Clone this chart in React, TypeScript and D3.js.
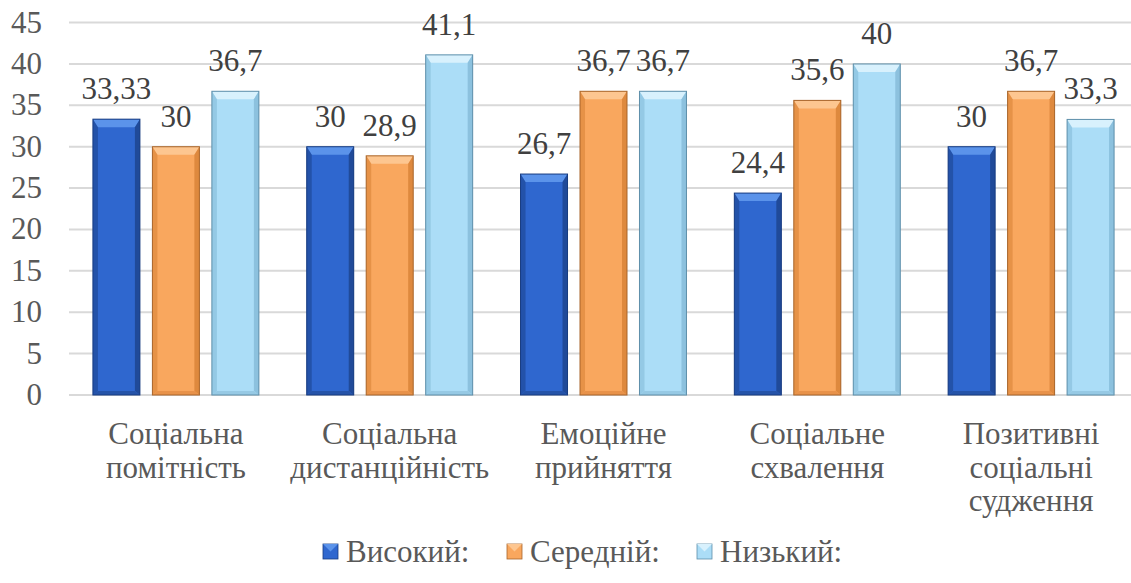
import React from 'react';
import * as d3 from 'd3';

const categories = [
  ['Соціальна', 'помітність'],
  ['Соціальна', 'дистанційність'],
  ['Емоційне', 'прийняття'],
  ['Соціальне', 'схвалення'],
  ['Позитивні', 'соціальні', 'судження'],
];
const seriesNames = ['Високий:', 'Середній:', 'Низький:'];
const high = [33.33, 30, 26.7, 24.4, 30];
const middle = [30, 28.9, 36.7, 35.6, 36.7];
const low = [36.7, 41.1, 36.7, 40, 33.3];
const valueLabels = [
  ['33,33', '30', '36,7'],
  ['30', '28,9', '41,1'],
  ['26,7', '36,7', '36,7'],
  ['24,4', '35,6', '40'],
  ['30', '36,7', '33,3'],
];
const yTicks = [0, 5, 10, 15, 20, 25, 30, 35, 40, 45];

const palette = [
  { base: '#2F67CF', top: '#5B93EA', bottom: '#2553A8', side: '#1D458F', edge: '#183C80' },
  { base: '#F9A75E', top: '#FDC690', bottom: '#E8924A', side: '#D98438', edge: '#A8652B' },
  { base: '#ABDDF7', top: '#D8F1FD', bottom: '#96C9E4', side: '#86BCD9', edge: '#5E8FAA' },
];

const W = 1131;
const H = 583;
const FONT = "'Liberation Serif', 'Times New Roman', Tinos, Times";
const FS = 31;
const txt = { fontFamily: FONT, fontSize: FS };

export default function App() {
  const series = [high, middle, low];
  const x0 = d3
    .scaleBand<number>()
    .domain(d3.range(categories.length))
    .range([69, 1138])
    .paddingInner(0.107)
    .paddingOuter(0.0535);
  const x1 = d3
    .scaleBand<number>()
    .domain(d3.range(seriesNames.length))
    .range([0, x0.bandwidth()])
    .padding(0.21);
  const y = d3.scaleLinear().domain([0, 45]).range([395, 22.6]);

  const bw = x1.bandwidth();
  const bev = 8;
  const side = 5;

  const bars = categories.map((_, ci) =>
    series.map((vals, si) => {
      const v = vals[ci];
      const xl = (x0(ci) as number) + (x1(si) as number);
      const xr = xl + bw;
      const yt = y(v);
      const yb = y(0);
      const c = palette[si];
      return (
        <g key={`${ci}-${si}`}>
          <rect x={xl} y={yt} width={bw} height={yb - yt} fill={c.base} />
          <polygon
            points={`${xl},${yt} ${xr},${yt} ${xr - side},${yt + bev} ${xl + side},${yt + bev}`}
            fill={c.top}
          />
          <polygon
            points={`${xl},${yt} ${xl + side},${yt + bev} ${xl + side},${yb - 4} ${xl},${yb}`}
            fill={c.side}
            opacity={0.6}
          />
          <polygon
            points={`${xr},${yt} ${xr - side},${yt + bev} ${xr - side},${yb - 4} ${xr},${yb}`}
            fill={c.side}
            opacity={0.85}
          />
          <polygon
            points={`${xl},${yb} ${xr},${yb} ${xr - side},${yb - 4} ${xl + side},${yb - 4}`}
            fill={c.bottom}
          />
          <rect x={xl} y={yt} width={bw} height={yb - yt} fill="none" stroke={c.edge} strokeWidth={1} />
          <text x={(xl + xr) / 2} y={yt - 20} textAnchor="middle" style={txt} fill="#404040">
            {valueLabels[ci][si]}
          </text>
        </g>
      );
    })
  );

  const legendX = [323, 507, 697];

  return (
    <div style={{ position: 'absolute', left: 0, top: 0, width: W, height: H, fontFamily: FONT }}>
      <svg width={W} height={H} style={{ display: 'block', fontFamily: FONT }}>
        <rect width={W} height={H} fill="#fff" />
        <g>
          {yTicks.map((t) => (
            <g key={t}>
              <line x1={69} x2={1138} y1={y(t)} y2={y(t)} stroke="#D9D9D9" strokeWidth={2} />
              <text x={42} y={y(t) + 10} textAnchor="end" style={txt} fill="#595959">
                {t}
              </text>
            </g>
          ))}
        </g>
        <g>{bars}</g>
        <g>
          {categories.map((lines, ci) => (
            <text
              key={ci}
              x={(x0(ci) as number) + x0.bandwidth() / 2}
              y={444}
              textAnchor="middle"
              style={txt}
              fill="#595959"
            >
              {lines.map((l, li) => (
                <tspan key={li} x={(x0(ci) as number) + x0.bandwidth() / 2} dy={li === 0 ? 0 : 33.5}>
                  {l}
                </tspan>
              ))}
            </text>
          ))}
        </g>
        <g>
          {seriesNames.map((n, si) => {
            const c = palette[si];
            const lx = legendX[si];
            const ly = 544;
            const s = 15;
            return (
              <g key={n}>
                <rect x={lx} y={ly} width={s} height={s} fill={c.base} stroke={c.edge} strokeWidth={0.8} />
                <polygon points={`${lx},${ly} ${lx + s},${ly} ${lx + s / 2},${ly + s / 2}`} fill={c.top} />
                <text x={lx + s + 8} y={ly + s / 2 + 10} style={txt} fill="#595959">
                  {n}
                </text>
              </g>
            );
          })}
        </g>
      </svg>
    </div>
  );
}
